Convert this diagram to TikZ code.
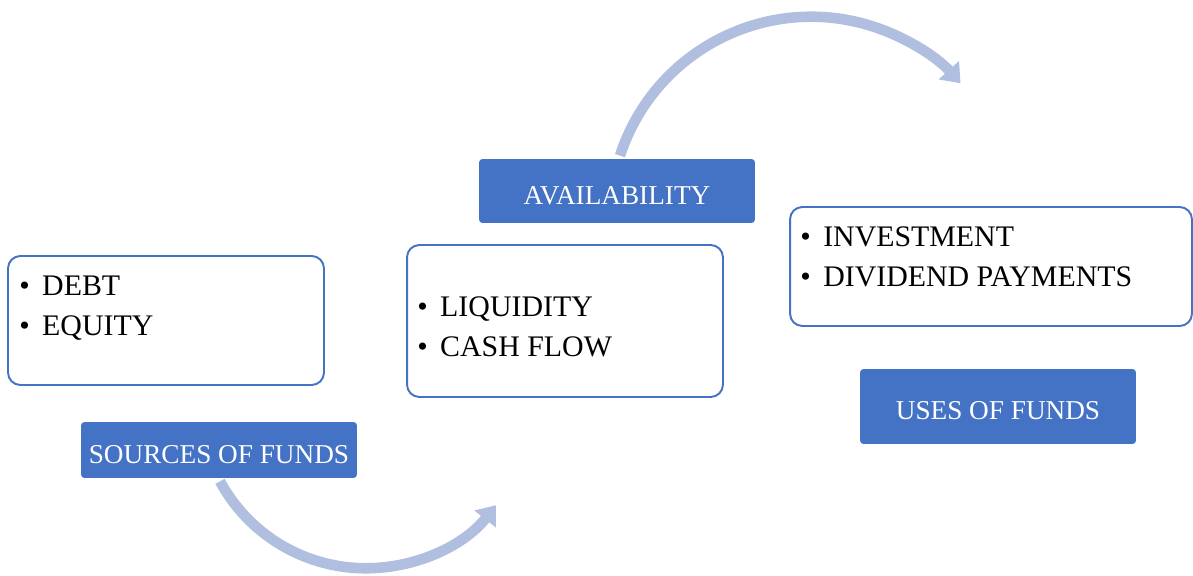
\documentclass[tikz,border=0pt]{standalone}
\usepackage{fontspec}
\setmainfont{Liberation Serif}
\usetikzlibrary{arrows.meta}

\definecolor{boxblue}{HTML}{4472C4}
\definecolor{flowblue}{HTML}{B0BEDF}
\newcommand\itm{\makebox[13pt][l]{\textbullet}}

\begin{document}
\begin{tikzpicture}[
      x=0.02cm, y=0.02cm,
      itembox/.style={draw=boxblue, line width=1.1pt, rounded corners=7pt, fill=white, inner sep=0pt},
      tagbox/.style={fill=boxblue, rounded corners=2pt, text=white, inner sep=0pt, minimum width=5.52cm,
        text height=15pt, text depth=0pt, font=\fontsize{15.5}{18}\selectfont},
      items/.style={anchor=north west, inner sep=0pt, align=left, font=\fontsize{17}{22.7}\selectfont},
      flow/.style={draw=flowblue, line width=6pt, -{Triangle[length=10pt, width=15pt]}}
    ]
    \useasboundingbox (0,0) rectangle (1193,575);

    % list boxes
    \node[itembox, minimum width=6.32cm, minimum height=2.58cm] (debt) at (166,254.5) {};
    \node[itembox, minimum width=6.32cm, minimum height=3.04cm] (liquid) at (565,254) {};
    \node[itembox, minimum width=8.04cm, minimum height=2.38cm] (invest) at (991,308.5) {};

    \node[items] (debtlist) at ([shift={(12,-21)}]debt.north west) {\itm DEBT\\ \itm EQUITY};
    \node[items] (liquidlist) at ([shift={(11,-52)}]liquid.north west) {\itm LIQUIDITY\\ \itm CASH FLOW};
    \node[items] (investlist) at ([shift={(11,-20)}]invest.north west) {\itm INVESTMENT\\ \itm DIVIDEND PAYMENTS};

    % headings
    \node[tagbox, minimum height=1.12cm] (sources) at (219,125) {SOURCES OF FUNDS};
    \node[tagbox, minimum height=1.28cm] (avail) at (617,384) {AVAILABILITY};
    \node[tagbox, minimum height=1.5cm] (uses) at (998,168.5) {USES OF FUNDS};

    % curved arrows
    \draw[flow] (sources.south) ++(1,-3) arc[start angle=208.4, end angle=321.7, radius=165.8];
    \draw[flow] (avail.north) ++(3,3) arc[start angle=162, end angle=42, radius=201];
  \end{tikzpicture}
\end{document}
